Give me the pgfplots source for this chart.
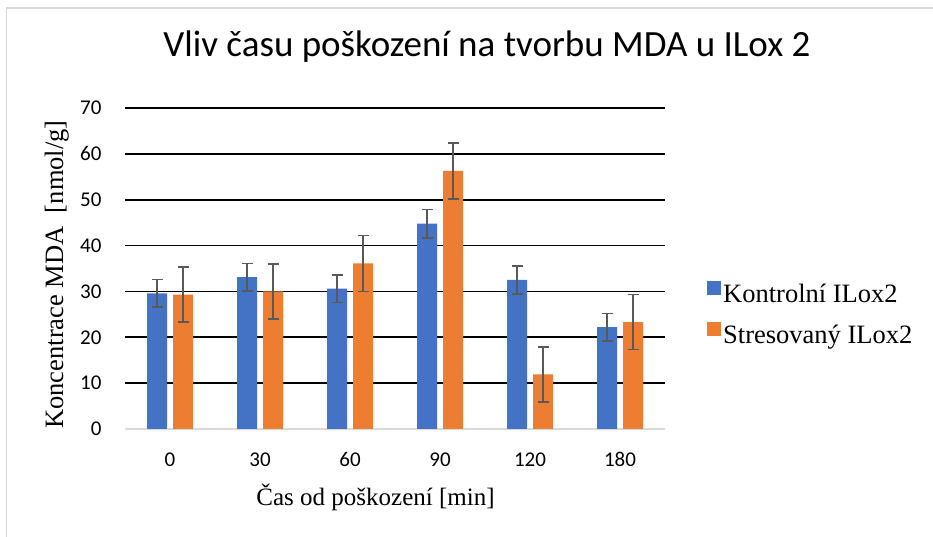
\documentclass[border=0pt]{standalone}
\usepackage{pgfplots}
\pgfplotsset{compat=1.18}
\usepackage{fontspec}
\setmainfont{Liberation Serif}
\newfontfamily\calibri{Carlito}
\definecolor{xblue}{HTML}{4472C4}
\definecolor{xorange}{HTML}{ED7D31}
\definecolor{errgray}{HTML}{595959}
\definecolor{framegray}{HTML}{D9D9D9}
\begin{document}
\begin{tikzpicture}[x=1pt,y=1pt]
\useasboundingbox (0,0) rectangle (933,537);
\fill[white] (0,0) rectangle (933,537);
\draw[framegray, line width=1.5pt] (6.5,0) -- (6.5,529) -- (933,529);
\begin{axis}[
  at={(125pt,108pt)}, anchor=south west,
  scale only axis, width=540pt, height=321pt,
  xmin=-0.5, xmax=5.5, ymin=0, ymax=70,
  xtick={0,1,2,3,4,5}, xticklabels={0,30,60,90,120,180},
  ytick={10,20,...,70},
  extra y ticks={0}, extra y tick labels={0},
  extra y tick style={grid style={framegray, line width=1.5pt}},
  ymajorgrids, grid style={black, line width=1.6pt},
  major tick length=0pt,
  axis line style={draw=none},
  /pgf/number format/assume math mode=true,
  every tick label/.append style={font=\calibri\fontsize{21}{21}\selectfont, text=black},
  yticklabel style={anchor=east, xshift=-20pt},
  xticklabel style={anchor=base, yshift=-38pt},
  ybar=6pt, bar width=20pt,
  legend cell align=left,
  legend style={at={(579pt,150pt)}, anchor=north west, draw=none, fill=none,
    font=\fontsize{26.5}{26.5}\selectfont, row sep=16pt,
    /tikz/every even column/.append style={column sep=7pt}},
  error bars/y dir=both, error bars/y explicit,
  error bars/error bar style={errgray, line width=1.6pt},
  error bars/error mark options={rotate=90, errgray, mark size=5.5pt, line width=1.6pt},
]
\addplot[fill=xblue, draw=none,
  legend image code/.code={\fill[xblue] (0pt,-1pt) rectangle (14pt,13pt);}]
  coordinates {(0,29.6) +- (0,3.0) (1,33.1) +- (0,3.0) (2,30.6) +- (0,3.0)
               (3,44.8) +- (0,3.1) (4,32.5) +- (0,3.0) (5,22.2) +- (0,3.0)};
\addlegendentry{Kontrolní ILox2}
\addplot[fill=xorange, draw=none,
  legend image code/.code={\fill[xorange] (0pt,-1pt) rectangle (14pt,13pt);}]
  coordinates {(0,29.3) +- (0,6.0) (1,30.0) +- (0,6.0) (2,36.1) +- (0,6.1)
               (3,56.3) +- (0,6.1) (4,11.9) +- (0,6.0) (5,23.3) +- (0,6.0)};
\addlegendentry{Stresovaný ILox2}
\end{axis}
\node[anchor=base, font=\calibri\fontsize{37}{37}\selectfont] at (487,480) {Vliv času poškození na tvorbu MDA u ILox 2};
\node[anchor=base, rotate=90, font=\fontsize{26.5}{26.5}\selectfont] at (63,262.5) {Koncentrace MDA\ \ [nmol/g]};
\node[anchor=base, font=\fontsize{25}{25}\selectfont] at (375.5,31) {Čas od poškození [min]};
\end{tikzpicture}
\end{document}
